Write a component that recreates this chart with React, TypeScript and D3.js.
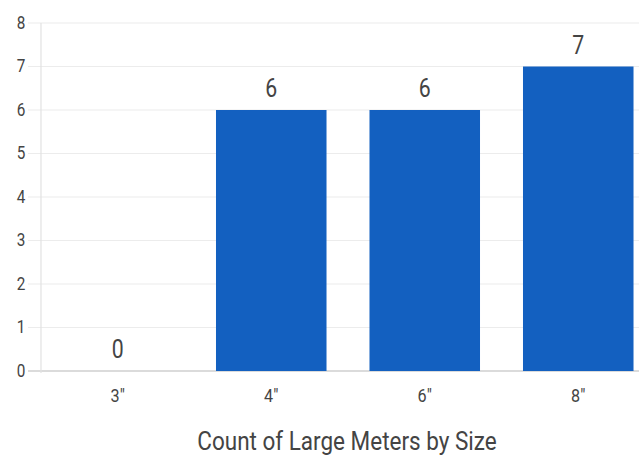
import React from "react";
import * as d3 from "d3";

const sizes = ['3"', '4"', '6"', '8"'];
const counts = [0, 6, 6, 7];
const yTicks = [0, 1, 2, 3, 4, 5, 6, 7, 8];
const title = "Count of Large Meters by Size";

export default function App() {
  const width = 639;
  const height = 460;
  const left = 41;
  const right = 655; // plot runs past the cropped edge
  const top = 23;
  const bottom = 371;

  const x = d3.scaleBand<string>().domain(sizes).range([left, right]).paddingInner(0.28).paddingOuter(0.14);
  const y = d3.scaleLinear().domain([0, 8]).range([bottom, top]);

  const font = "Roboto, 'Liberation Sans', Arial, sans-serif";
  const squeeze = (cx: number, cy: number, s: number) =>
    `translate(${cx},${cy}) scale(${s},1)`;

  return (
    <svg
      width={width}
      height={height}
      style={{ position: "absolute", left: 0, top: 0, background: "#fff" }}
      fontFamily={font}
    >
      {/* grid */}
      {yTicks.map((t) => (
        <g key={t}>
          <line x1={28} x2={width} y1={y(t)} y2={y(t)} stroke={t === 0 ? "#cfcfcf" : "#ececec"} strokeWidth={t === 0 ? 1.5 : 1.2} />
          <text
            transform={squeeze(21, y(t), 0.85)}
            textAnchor="middle"
            dominantBaseline="central"
            fontSize={18}
            fill="#444"
          >
            {t}
          </text>
        </g>
      ))}
      <line x1={left} x2={left} y1={top} y2={bottom + 2} stroke="#e2e2e2" strokeWidth={1.2} />

      {/* bars */}
      {sizes.map((s, i) => (
        <g key={s}>
          {counts[i] > 0 && (
            <rect
              x={x(s)!}
              y={y(counts[i])}
              width={x.bandwidth()}
              height={y(0) - y(counts[i])}
              fill="#1360c0"
            />
          )}
          <text
            transform={squeeze(x(s)! + x.bandwidth() / 2, y(counts[i]) - 13, 0.85)}
            textAnchor="middle"
            fontSize={25}
            fill="#444"
          >
            {counts[i]}
          </text>
          <text
            transform={squeeze(x(s)! + x.bandwidth() / 2, 402, 0.85)}
            textAnchor="middle"
            fontSize={19}
            fill="#444"
          >
            {s}
          </text>
        </g>
      ))}

      <text transform={squeeze(347, 450, 0.9)} textAnchor="middle" fontSize={25} fill="#444">
        {title}
      </text>
    </svg>
  );
}
